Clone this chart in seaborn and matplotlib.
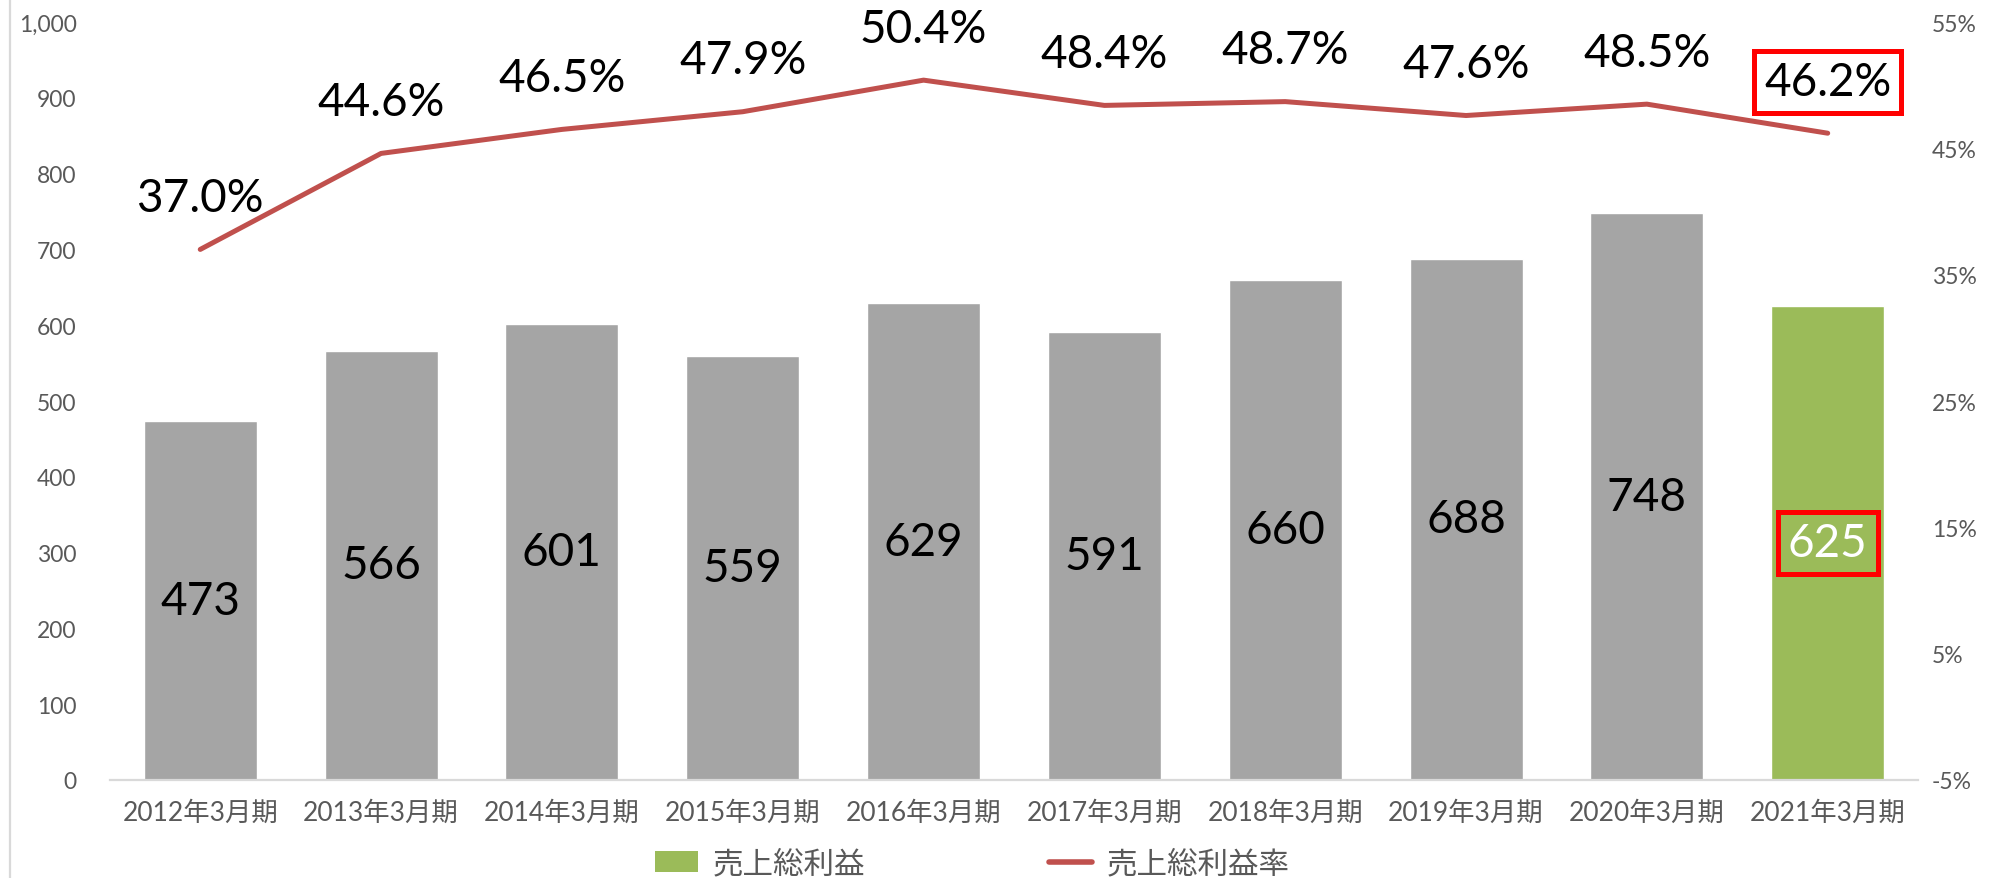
import matplotlib
matplotlib.use('Agg')
import matplotlib.pyplot as plt
from matplotlib.lines import Line2D
from matplotlib.patches import Patch
from matplotlib.ticker import FuncFormatter
import seaborn as sns
import pandas as pd

# data
periods = ['2012年3月期', '2013年3月期', '2014年3月期', '2015年3月期', '2016年3月期',
           '2017年3月期', '2018年3月期', '2019年3月期', '2020年3月期', '2021年3月期']
gross_profit = [473, 566, 601, 559, 629, 591, 660, 688, 748, 625]
gross_margin = [37.0, 44.6, 46.5, 47.9, 50.4, 48.4, 48.7, 47.6, 48.5, 46.2]
bar_colors = ['#A5A5A5'] * 9 + ['#9BBB59']

sns.set_style('white')
plt.rcParams['font.family'] = ['Lato', 'Noto Sans CJK JP', 'DejaVu Sans']

df = pd.DataFrame({'period': periods, 'profit': gross_profit, 'margin': gross_margin})

fig = plt.figure(figsize=(19.97, 8.79), dpi=100)
ax = fig.add_axes([0.055, 0.1115, 0.9055, 0.8623])

sns.barplot(data=df, x='period', y='profit', hue='period', palette=bar_colors,
            width=0.625, legend=False, ax=ax, saturation=1)
ax.set_xlim(-0.5, len(periods) - 0.5)
ax.set_ylim(0, 1000)
ax.set_yticks(range(0, 1001, 100))
ax.yaxis.set_major_formatter(FuncFormatter(lambda v, p: f'{int(v):,}'))
ax.set_xlabel('')
ax.set_ylabel('')

ax2 = ax.twinx()
sns.lineplot(data=df, x='period', y='margin', sort=False, color='#C0504D',
             linewidth=3.6, ax=ax2)
ax2.set_ylim(-5, 55)
ax2.set_yticks(range(-5, 56, 10))
ax2.yaxis.set_major_formatter(FuncFormatter(lambda v, p: f'{int(v)}%'))
ax2.set_ylabel('')

for a in (ax, ax2):
    for s in ('top', 'left', 'right', 'bottom'):
        a.spines[s].set_visible(False)
    a.tick_params(length=0, colors='#595959')
ax.spines['bottom'].set_visible(True)
ax.spines['bottom'].set_color('#D9D9D9')
ax.spines['bottom'].set_linewidth(1.6)

ax.tick_params(axis='y', labelsize=16.5, pad=24)
ax.tick_params(axis='x', labelsize=19, pad=14)
ax2.tick_params(axis='y', labelsize=16.5, pad=10)

red_box = dict(boxstyle='square,pad=0.22', fc='none', ec='#FF0000', lw=3.6)

# bar value labels
last = len(periods) - 1
for i, v in enumerate(gross_profit):
    if i == last:
        ax.text(i, v / 2, f'{v}', ha='center', va='center', fontsize=33, color='white',
                bbox=red_box)
    else:
        ax.text(i, v / 2, f'{v}', ha='center', va='center', fontsize=33, color='black')

# margin labels
for i, m in enumerate(gross_margin):
    kw = {}
    if i == last:
        kw['bbox'] = red_box
    ax2.annotate(f'{m:.1f}%', (i, m), xytext=(0, 37), textcoords='offset points',
                 ha='center', va='center', fontsize=33, color='black', **kw)

handles = [Patch(facecolor='#9BBB59', edgecolor='none', label='売上総利益'),
           Line2D([0], [0], color='#C0504D', lw=4, label='売上総利益率')]
fig.legend(handles=handles, loc='center', bbox_to_anchor=(0.487, 0.017), ncol=2,
           frameon=False, fontsize=22, handlelength=1.4, handletextpad=0.5,
           columnspacing=6.0, labelcolor='#595959')

fig.add_artist(Line2D([0.005, 0.005], [0, 1], transform=fig.transFigure,
                      color='#D9D9D9', lw=1.6))

fig.savefig('out.png', dpi=100)
